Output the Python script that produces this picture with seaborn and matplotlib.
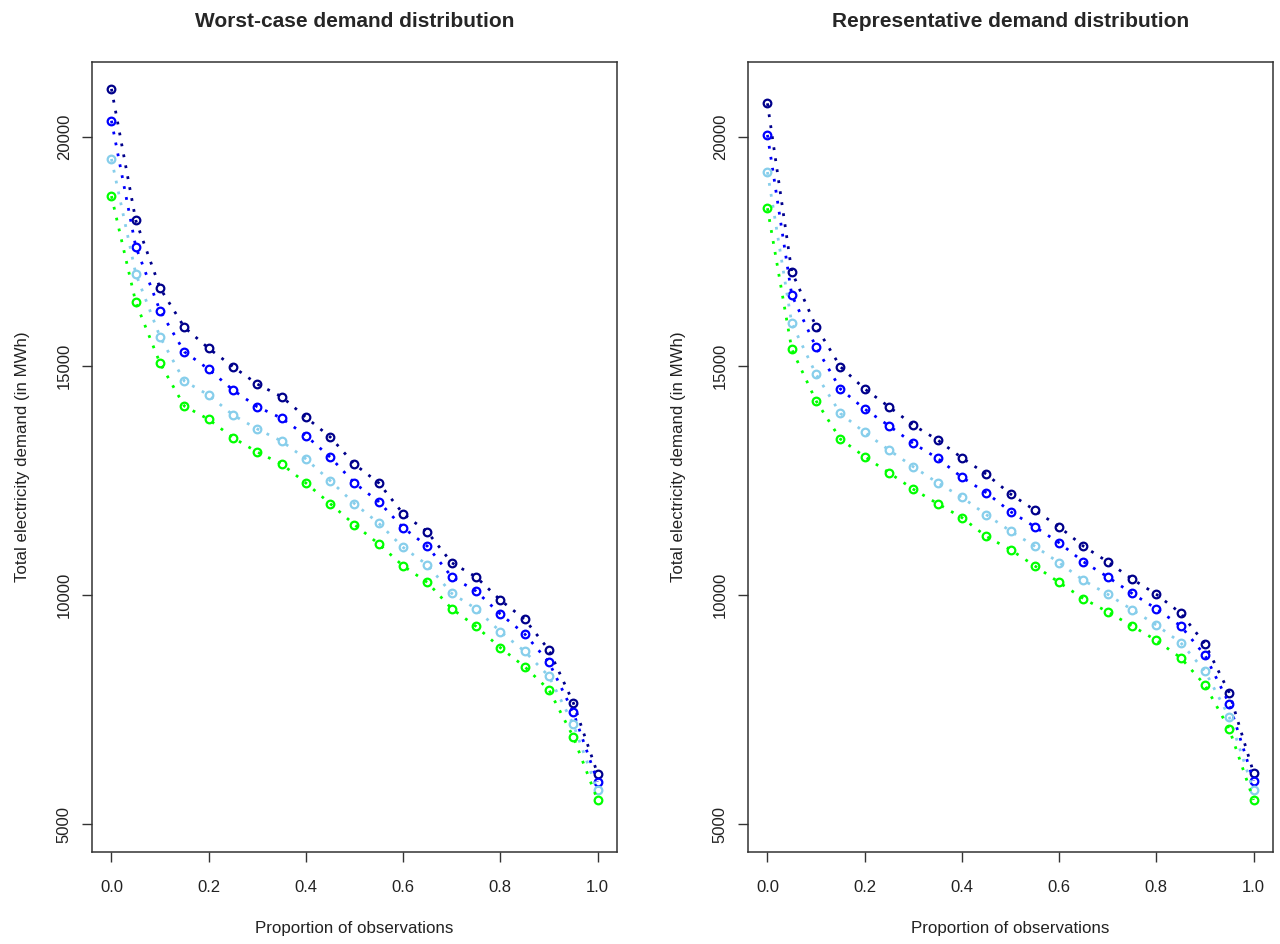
import numpy as np
import pandas as pd
import matplotlib
matplotlib.use("Agg")
import matplotlib.pyplot as plt
import seaborn as sns

proportion = [0.00, 0.05, 0.10, 0.15, 0.20, 0.25, 0.30, 0.35, 0.40, 0.45, 0.50,
              0.55, 0.60, 0.65, 0.70, 0.75, 0.80, 0.85, 0.90, 0.95, 1.00]

# Worst-case panel
worst_darkblue = [21050, 18180, 16700, 15845, 15385, 14985, 14605, 14330, 13880, 13450, 12855,
                  12445, 11775, 11375, 10705, 10395, 9890, 9470, 8800, 7650, 6100]
worst_blue = [20355, 17605, 16205, 15310, 14930, 14475, 14110, 13860, 13480, 13010, 12445,
              12035, 11470, 11065, 10395, 10085, 9585, 9150, 8530, 7440, 5925]
worst_skyblue = [19520, 17015, 15635, 14670, 14365, 13930, 13625, 13360, 12970, 12495, 11995,
                 11565, 11040, 10655, 10035, 9700, 9200, 8770, 8225, 7175, 5735]
worst_green = [18710, 16390, 15060, 14125, 13835, 13435, 13120, 12860, 12445, 11995, 11535,
               11115, 10635, 10275, 9700, 9315, 8850, 8435, 7930, 6905, 5525]

# Representative panel
rep_darkblue = [20735, 17060, 15860, 14985, 14500, 14110, 13710, 13385, 12995, 12640, 12205,
                11850, 11490, 11065, 10725, 10350, 10015, 9605, 8935, 7865, 6120]
rep_blue = [20045, 16550, 15410, 14500, 14060, 13695, 13310, 12985, 12570, 12235, 11820,
            11490, 11140, 10725, 10395, 10035, 9700, 9325, 8685, 7625, 5945]
rep_skyblue = [19235, 15930, 14820, 13965, 13550, 13165, 12800, 12450, 12135, 11755, 11395,
               11065, 10705, 10320, 10015, 9680, 9345, 8960, 8340, 7335, 5735]
rep_green = [18445, 15365, 14240, 13405, 13020, 12670, 12310, 11995, 11690, 11280, 10990,
             10635, 10275, 9920, 9630, 9325, 9010, 8630, 8035, 7075, 5525]

series_colors = ["#00008B", "#0000FF", "#87CEEB", "#00FF00"]
panel_titles = ["Worst-case demand distribution", "Representative demand distribution"]
x_label = "Proportion of observations"
y_label = "Total electricity demand (in MWh)"
x_ticks = [0.0, 0.2, 0.4, 0.6, 0.8, 1.0]
x_ticklabels = ["0.0", "0.2", "0.4", "0.6", "0.8", "1.0"]
y_ticks = [5000, 10000, 15000, 20000]
y_ticklabels = ["5000", "10000", "15000", "20000"]

sns.set_style("white")
plt.rcParams["font.family"] = ["Liberation Sans", "DejaVu Sans"]

panels = [
    [worst_darkblue, worst_blue, worst_skyblue, worst_green],
    [rep_darkblue, rep_blue, rep_skyblue, rep_green],
]

W, H = 1280, 944
fig = plt.figure(figsize=(W / 100, H / 100), dpi=100)
axes_px = [(92, 62, 617, 852), (748, 62, 1273, 852)]

for (x0, y0, x1, y1), series_list, title in zip(axes_px, panels, panel_titles):
    ax = fig.add_axes([x0 / W, 1 - y1 / H, (x1 - x0) / W, (y1 - y0) / H])
    for vals, col in zip(series_list, series_colors):
        df = pd.DataFrame({"x": proportion, "y": vals})
        sns.lineplot(data=df, x="x", y="y", ax=ax, color=col, linewidth=2,
                     dashes=False, linestyle=(0, (1, 3)), marker="o", markersize=5.5,
                     markerfacecolor="none", markeredgecolor=col, markeredgewidth=1.6,
                     sort=False, errorbar=None)
    ax.set_xlim(-0.04, 1.04)
    ax.set_ylim(4389, 21637)
    ax.set_xticks(x_ticks)
    ax.set_xticklabels(x_ticklabels)
    ax.set_yticks(y_ticks)
    ax.set_yticklabels(y_ticklabels, rotation=90, va="center")
    ax.tick_params(axis="both", direction="out", length=7, width=1, color="#333333",
                   labelsize=12, labelcolor="#222222", bottom=True, left=True)
    ax.tick_params(axis="x", pad=13)
    ax.tick_params(axis="y", pad=7.5)
    for sp in ax.spines.values():
        sp.set_color("#333333")
        sp.set_linewidth(1.1)
    ax.set_xlabel(x_label, fontsize=12.2, labelpad=19, color="#222222")
    ax.set_ylabel(y_label, fontsize=12.2, labelpad=19, color="#222222")
    ax.set_title(title, fontsize=15, fontweight="bold", pad=25)
    ax.grid(False)

fig.savefig("out.png", dpi=100, facecolor="white")
